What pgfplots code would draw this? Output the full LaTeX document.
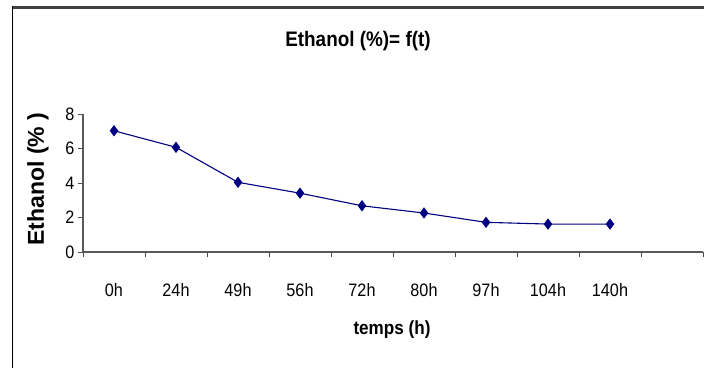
\documentclass[border=0pt]{standalone}
\usepackage{fontspec}
\setmainfont{Liberation Sans}[FakeStretch=0.9]
\newfontfamily\ylabfont{Liberation Sans}
\usepackage{pgfplots}
\pgfplotsset{compat=1.18}
\definecolor{navy}{RGB}{0,0,128}
\begin{document}
\begin{tikzpicture}[x=1pt,y=1pt]
\useasboundingbox (0,0) rectangle (704,368);
\fill[black!75] (11.5,359.5) rectangle (704,362);
\draw[black, line width=0.9pt] (12,362) -- (12,0);
\begin{axis}[
  at={(83pt,116pt)}, anchor=south west,
  scale only axis, width=620pt, height=138pt,
  xmin=-0.5, xmax=9.5, ymin=0, ymax=8,
  axis lines=left, axis line style={-, black!65, line width=1.3pt},
  xtick={0,...,8},
  xticklabels={0h,24h,49h,56h,72h,80h,97h,104h,140h},
  major x tick style={draw=none},
  minor xtick={-0.5,0.5,...,9.5},
  minor tick length=5pt,
  minor x tick style={black!70, line width=0.8pt},
  ytick={0,2,4,6,8},
  y tick style={black!70, line width=0.8pt},
  major tick length=5pt,
  tick align=outside,
  xticklabel style={yshift=-23pt},
  tick label style={font=\fontsize{18}{21}\selectfont, /pgf/number format/assume math mode=true},
  clip=false,
]
\addplot[navy, line width=1.1pt, mark=diamond*, mark size=4.8pt, mark options={fill=navy, draw=navy}]
coordinates {(0,7.03) (1,6.07) (2,4.04) (3,3.41) (4,2.68) (5,2.26) (6,1.72) (7,1.62) (8,1.62)};
\end{axis}
\node[font=\bfseries\fontsize{21}{24}\selectfont] at (358,327) {Ethanol (\%)= f(t)};
\node[font=\ylabfont\bfseries\fontsize{23}{26}\selectfont, rotate=90] at (38,189) {Ethanol (\% )};
\node[font=\bfseries\fontsize{19}{22}\selectfont] at (392,38) {temps (h)};
\end{tikzpicture}
\end{document}
